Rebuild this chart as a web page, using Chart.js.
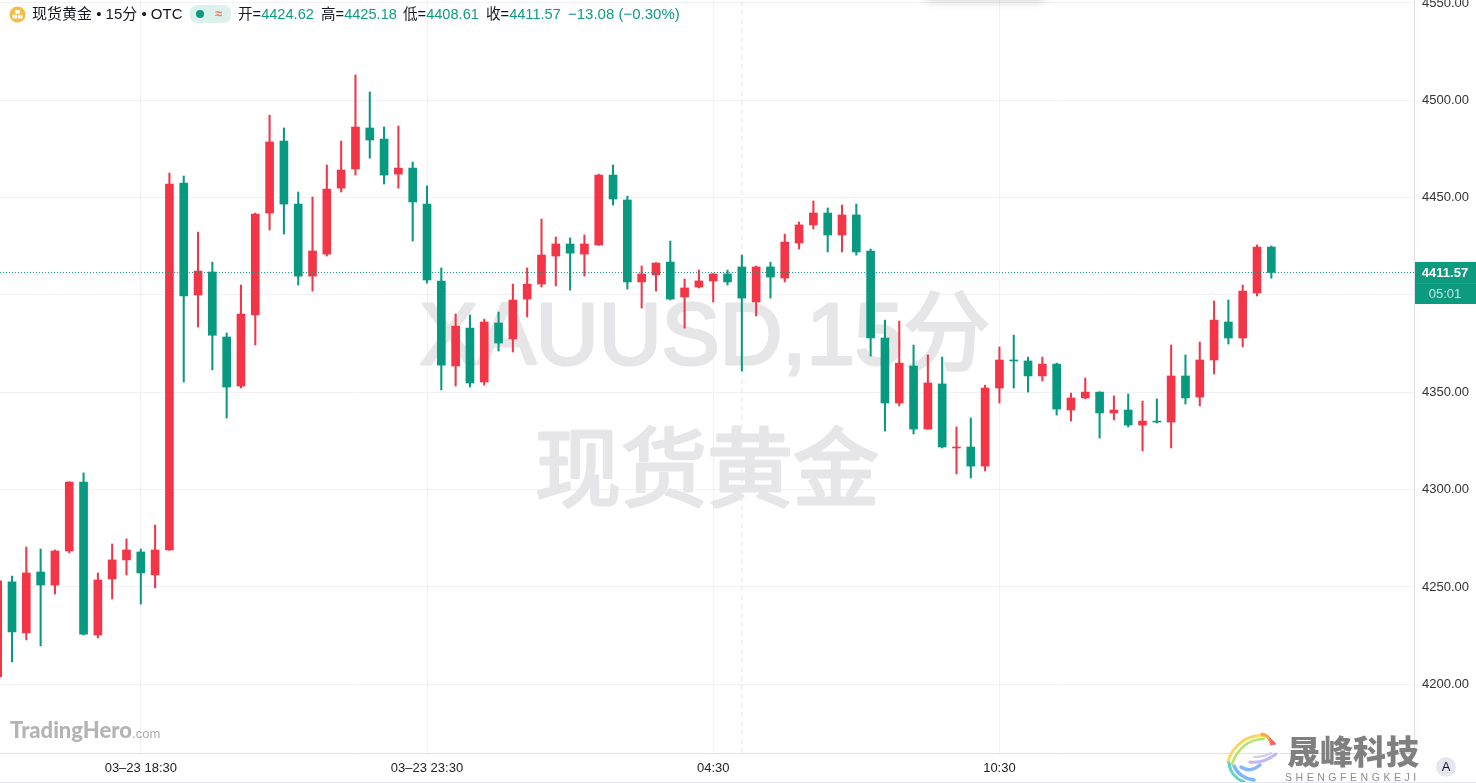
<!DOCTYPE html>
<html lang="zh">
<head>
<meta charset="utf-8">
<title>现货黄金 15分</title>
<script src="https://cdn.jsdelivr.net/npm/chart.js@4/dist/chart.umd.min.js"></script>
<style>
html,body{margin:0;padding:0;background:#fff;overflow:hidden}
#wrap{position:relative;width:1476px;height:783px;overflow:hidden;font-family:"Liberation Sans","Noto Sans CJK SC",sans-serif}
canvas{position:absolute;left:0;top:0}
.t{position:absolute;white-space:nowrap;font-size:14.6px;line-height:16px;top:6px;color:#131722}
.g{color:#0d9b82}
</style>
</head>
<body>
<div id="wrap">
<canvas id="c" width="1476" height="783"></canvas>
<div style="position:absolute;left:925px;top:-30px;width:120px;height:30px;border-radius:8px;box-shadow:0 0 9px 3px rgba(0,0,0,.13)"></div>
<svg style="position:absolute;left:9px;top:6px" width="17" height="17" viewBox="0 0 17 17"><circle cx="8.5" cy="8.5" r="8" fill="#f4bd45"/><rect x="6.2" y="4" width="4.6" height="3.6" fill="#fff"/><rect x="3.5" y="8.8" width="4.6" height="3.6" fill="#fff"/><rect x="8.9" y="8.8" width="4.6" height="3.6" fill="#fff"/></svg>
<div class="t" style="left:32px;font-size:15px">现货黄金 • 15分 • OTC</div>
<div style="position:absolute;left:190px;top:5px;width:41px;height:18px;border-radius:7px;background:#dcf0ec"></div>
<div style="position:absolute;left:196px;top:10px;width:8px;height:8px;border-radius:50%;background:#089981"></div>
<div class="t" style="left:215px;color:#f2784b;font-size:13px;font-weight:bold">≈</div>
<div class="t" style="left:238px">开=<span class="g" id="vO"></span></div>
<div class="t" style="left:321px">高=<span class="g" id="vH"></span></div>
<div class="t" style="left:403px">低=<span class="g" id="vL"></span></div>
<div class="t" style="left:486px">收=<span class="g" id="vC"></span></div>
<div class="t g" style="left:568px;font-size:15px">−13.08 (−0.30%)</div>
<div style="position:absolute;left:10px;top:716px;font:900 22px 'Lato',sans-serif;color:#b4b4b4;line-height:28px">TradingHero<span style="font:13px 'Liberation Sans',sans-serif;color:#aaa">.com</span></div>
<svg style="position:absolute;left:1224px;top:732px" width="56" height="51" viewBox="0 0 56 51" fill="none" stroke-linecap="round">
<path d="M42 4 C24 1 8 14 4 30" stroke="#f9d65c" stroke-width="3"/>
<path d="M40 7 C26 6 13 17 8 32" stroke="#b7e36b" stroke-width="2.4"/>
<path d="M5 31 C6 40 12 47 20 50" stroke="#63d4c0" stroke-width="3"/>
<path d="M10 34 C13 41 20 47 30 48" stroke="#7ab8fb" stroke-width="3.4"/>
<path d="M17 35 C23 39 30 38 36 33" stroke="#86b6fb" stroke-width="3.4"/>
<path d="M26 30 C34 31 43 29 52 22" stroke="#c3b6f5" stroke-width="3"/>
<path d="M30 25 C36 25 42 24 47 21" stroke="#d5caf7" stroke-width="2.2"/>
<path d="M38 2 C43 3 46 7 47 11" stroke="#f9a64f" stroke-width="3"/>
<path d="M46 6 L52 12 L47 13 Z" fill="#f56b6b" stroke="#f56b6b"/>
</svg>
<div style="position:absolute;left:1287px;top:730px;font:900 33px/40px 'Noto Sans CJK SC',sans-serif;color:#808080">晟峰科技</div>
<div style="position:absolute;left:1285px;top:771px;font:10.5px/12px 'Liberation Sans',sans-serif;letter-spacing:3.55px;color:#8c8c8c">SHENGFENGKEJI</div>
<div style="position:absolute;left:1436px;top:757px;width:20px;height:20px;border-radius:50%;background:#e6e6f0;font:13px/20px 'Liberation Sans',sans-serif;text-align:center;color:#131722">A</div>
<div style="position:absolute;left:0;top:782px;width:1476px;height:1px;background:#e4e4ec"></div>
</div>
<script>
const openPrices = [4203.8,4252.6,4226.4,4257.7,4251.0,4268.5,4303.9,4225.3,4254.1,4263.9,4268.0,4256.2,4269.0,4457.5,4400.0,4411.8,4378.4,4353.2,4389.7,4442.1,4479.1,4446.7,4409.7,4421.0,4454.9,4464.7,4485.8,4480.1,4462.1,4465.2,4446.7,4407.2,4363.5,4383.0,4355.3,4385.6,4377.4,4397.9,4405.6,4420.0,4426.2,4421.0,4425.7,4461.6,4448.8,4406.7,4410.3,4416.9,4399.0,4404.1,4407.2,4410.8,4414.4,4396.4,4414.4,4408.7,4426.7,4436.0,4442.1,4430.8,4441.1,4422.6,4377.9,4344.5,4363.5,4331.1,4354.3,4321.4,4321.9,4312.1,4352.2,4366.6,4366.1,4358.4,4364.5,4340.9,4347.1,4350.1,4339.4,4340.9,4333.2,4335.2,4334.7,4358.4,4347.6,4366.6,4386.1,4377.9,4401.0,4424.62];
const closePrices = [4253.1,4226.9,4257.2,4251.0,4268.5,4303.9,4225.8,4253.6,4263.9,4269.0,4257.2,4269.0,4457.0,4399.5,4412.3,4379.3,4352.7,4390.2,4441.6,4478.6,4446.7,4409.7,4422.6,4454.4,4464.2,4486.3,4479.6,4461.6,4465.2,4447.8,4407.7,4364.0,4384.0,4354.8,4386.1,4375.3,4397.4,4405.6,4420.5,4426.2,4421.5,4426.2,4461.6,4449.3,4406.7,4410.8,4416.4,4397.9,4403.6,4407.2,4410.8,4406.7,4398.4,4414.4,4409.2,4427.2,4436.0,4442.1,4430.8,4441.1,4422.1,4377.9,4344.5,4365.0,4331.1,4354.8,4321.9,4321.9,4312.1,4352.2,4366.6,4366.1,4358.4,4364.5,4341.4,4347.1,4350.1,4339.4,4340.9,4333.2,4335.2,4334.7,4358.4,4347.1,4366.6,4387.1,4377.9,4402.0,4424.6,4411.57];
const highPrices = [4254.6,4255.6,4270.5,4269.5,4269.0,4304.0,4308.6,4257.2,4272.1,4274.7,4269.5,4281.8,4462.6,4461.1,4432.3,4416.9,4380.5,4405.1,4442.1,4492.4,4485.8,4452.9,4450.3,4466.8,4479.1,4513.0,4504.3,4486.3,4486.8,4468.3,4456.0,4413.9,4390.2,4389.7,4387.6,4391.2,4405.6,4413.9,4439.0,4429.8,4429.3,4430.8,4462.1,4466.8,4450.8,4414.9,4416.6,4427.7,4408.2,4412.8,4411.0,4412.8,4420.5,4414.9,4416.9,4431.3,4437.5,4448.3,4444.7,4446.2,4446.7,4423.6,4387.1,4386.6,4374.3,4369.2,4368.1,4332.2,4336.8,4353.7,4373.3,4379.4,4368.1,4368.1,4365.0,4349.6,4357.3,4350.3,4348.1,4349.1,4345.5,4346.6,4374.3,4369.2,4375.8,4396.9,4397.4,4405.1,4425.7,4425.18];
const lowPrices = [4203.5,4211.5,4222.8,4219.7,4246.4,4267.5,4225.3,4223.8,4243.8,4256.2,4241.2,4249.5,4268.8,4355.3,4383.5,4361.5,4336.8,4352.2,4374.3,4433.4,4431.3,4405.1,4402.0,4420.0,4452.9,4461.6,4470.3,4457.0,4454.9,4427.7,4406.1,4351.2,4353.2,4352.7,4353.7,4371.2,4370.7,4388.7,4404.1,4404.6,4402.5,4409.7,4425.5,4446.2,4403.0,4393.3,4402.0,4397.4,4383.0,4403.6,4396.4,4405.1,4360.9,4389.2,4398.4,4406.7,4423.6,4433.9,4422.1,4422.1,4420.5,4368.6,4330.1,4343.0,4328.6,4331.0,4321.4,4308.1,4306.0,4309.6,4344.5,4352.2,4350.1,4355.8,4338.3,4335.2,4346.6,4326.5,4335.8,4332.2,4319.9,4334.2,4321.4,4344.0,4343.0,4359.4,4374.8,4373.3,4399.5,4408.61];
const xTickPositions = [10,30,50,70];
const xTickLabels = ['03–23 18:30','03–23 23:30','04:30','10:30'];
const lastPrice = 4411.57;
const crosshairIndex = 52;
const countdown = '05:01';
const UP = '#f23648', DOWN = '#089981';

const last = openPrices.length - 1;
document.getElementById('vO').textContent = openPrices[last].toFixed(2);
document.getElementById('vH').textContent = highPrices[last].toFixed(2);
document.getElementById('vL').textContent = lowPrices[last].toFixed(2);
document.getElementById('vC').textContent = closePrices[last].toFixed(2);

const colors = openPrices.map((o,i)=> closePrices[i] >= o ? UP : DOWN);
const xMin = 0.161, xMax = 98.97, yMin = 4164.7, yMax = 4551.54;

const backdrop = {
  id:'backdrop',
  beforeDatasetsDraw(chart){
    const c = chart.ctx; c.save();
    c.fillStyle = c.strokeStyle = '#e6e6e8'; c.lineWidth = 3; c.lineJoin = 'round';
    c.textAlign = 'center'; c.textBaseline = 'alphabetic';
    c.font = '87px "Liberation Sans","Noto Sans CJK SC",sans-serif';
    c.fillText('XAUUSD,15分', 705, 364); c.strokeText('XAUUSD,15分', 705, 364);
    c.font = '86px "Noto Sans CJK SC",sans-serif';
    c.fillText('现货黄金', 707, 500); c.strokeText('现货黄金', 707, 500);
    c.restore();
  },
  afterDraw(chart){
    const c = chart.ctx, y = chart.scales.y.getPixelForValue(lastPrice), a = chart.chartArea;
    c.save();
    c.fillStyle = '#0d9b80'; c.fillRect(a.right+1, Math.round(y)-10, 61, 42);
    c.fillStyle = 'rgba(255,255,255,.08)'; c.fillRect(a.right+1, Math.round(y)+11, 61, 1);
    c.textAlign = 'center'; c.textBaseline = 'middle';
    c.fillStyle = '#fff'; c.font = 'bold 13px "Liberation Sans",sans-serif';
    c.fillText(lastPrice.toFixed(2), a.right+31, Math.round(y)+1);
    c.fillStyle = 'rgba(255,255,255,.75)'; c.font = '13px "Liberation Sans",sans-serif';
    c.fillText(countdown, a.right+31, Math.round(y)+22);
    c.restore();
  }
};

function noPad(s){s.paddingTop=0;s.paddingBottom=0;s.paddingLeft=0;s.paddingRight=0;}

new Chart(document.getElementById('c'), {
  type:'bar',
  plugins:[backdrop],
  data:{datasets:[
    {type:'line',order:0,data:[{x:xMin,y:lastPrice},{x:xMax,y:lastPrice}],borderColor:'#089981',borderWidth:1,borderDash:[1,2],pointRadius:0,tension:0},
    {order:1,grouped:false,barThickness:8,borderWidth:0,backgroundColor:colors,
     data:openPrices.map((o,i)=>({x:i,y:[o,closePrices[i]]}))},
    {order:2,grouped:false,barThickness:1.4,borderWidth:0,backgroundColor:colors,
     data:highPrices.map((h,i)=>({x:i,y:[lowPrices[i],h]}))},
    {type:'line',order:3,data:[{x:crosshairIndex,y:yMin},{x:crosshairIndex,y:yMax}],borderColor:'#e4e4ee',borderWidth:1,borderDash:[5,4],pointRadius:0}
  ]},
  options:{
    responsive:false,animation:false,devicePixelRatio:1,
    layout:{padding:0,autoPadding:false},
    plugins:{legend:{display:false},tooltip:{enabled:false}},
    scales:{
      x:{type:'linear',min:xMin,max:xMax,offset:false,
        afterFit(s){s.height=30;noPad(s);},
        afterBuildTicks(s){s.ticks=xTickPositions.map(v=>({value:v}));},
        grid:{color:'#f2f2f6',lineWidth:1,drawTicks:false,offset:false},
        border:{color:'#e0e0ea'},
        ticks:{autoSkip:false,maxRotation:0,padding:8,color:'#222',font:{family:'"Liberation Sans",sans-serif',size:13},
          callback(v){const i=xTickPositions.indexOf(v);return i<0?'':xTickLabels[i];}}
      },
      y:{type:'linear',position:'right',min:yMin,max:yMax,
        afterFit(s){s.width=62;noPad(s);},
        grid:{color:'#f2f2f6',lineWidth:1,drawTicks:false},
        border:{color:'#e0e0ea'},
        ticks:{stepSize:50,includeBounds:false,autoSkip:false,padding:8,color:'#333',font:{family:'"Liberation Sans",sans-serif',size:13},
          callback(v){return Number(v).toFixed(2);}}
      }
    }
  }
});
</script>
</body>
</html>
